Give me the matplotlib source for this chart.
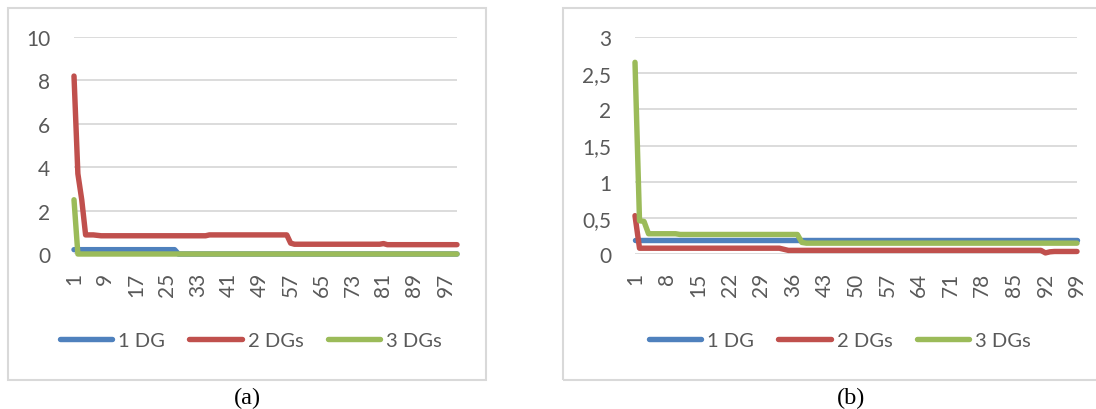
import matplotlib
matplotlib.use("Agg")
import matplotlib.pyplot as plt
from matplotlib.patches import Rectangle
from matplotlib.ticker import FuncFormatter

# ---------------- data ----------------
series_labels = ["1 DG", "2 DGs", "3 DGs"]
colors = ["#4F81BD", "#C0504D", "#9BBB59"]

# panel (a): 100 iterations
iters_a = list(range(1, 101))
dg1_a = [0.2] * 27 + [0.0] * 73
dg2_a = ([8.2, 3.7, 2.5, 0.88, 0.88, 0.88, 0.86] + [0.84] * 28 + [0.88] * 21
         + [0.5] + [0.45] * 23 + [0.48] + [0.43] * 19)
dg3_a = [2.5] + [0.0] * 99
xticks_a = list(range(1, 101, 8))
yticks_a = [0, 2, 4, 6, 8, 10]

# panel (b): 99 iterations
iters_b = list(range(1, 100))
dg1_b = [0.2] * 99
dg2_b = ([0.53] + [0.08] * 32 + [0.065] + [0.05] * 57 + [0.015, 0.03]
         + [0.035] * 6)
dg3_b = ([2.65, 0.46, 0.45] + [0.28] * 7 + [0.27] * 27 + [0.16] + [0.15] * 61)
xticks_b = list(range(1, 100, 7))
yticks_b = [0, 0.5, 1, 1.5, 2, 2.5, 3]

captions = ["(a)", "(b)"]

# ---------------- layout ----------------
W, H = 1096, 410
plt.rcParams['font.family'] = ['Lato', 'DejaVu Sans']
TXT = "#595959"
GRID = "#D9D9D9"

fig = plt.figure(figsize=(W / 100, H / 100), dpi=100)


def fx(px):
    return px / W


def fy(py):
    return (H - py) / H


def make_panel(left, right, xs, ys_list, xticks, yticks, ymax, fmt,
               legend_cx):
    ax = fig.add_axes([fx(left), fy(255), fx(right - left), (255 - 38) / H])
    for ys, c, lab in zip(ys_list, colors, series_labels):
        ax.plot(xs, ys, color=c, lw=3.9, solid_capstyle='round',
                solid_joinstyle='round', label=lab, clip_on=False, zorder=3)
    ax.set_xlim(xs[0], xs[-1])
    ax.set_ylim(0, ymax)
    ax.set_yticks(yticks)
    ax.yaxis.set_major_formatter(FuncFormatter(fmt))
    ax.set_xticks(xticks)
    ax.set_xticklabels([str(t) for t in xticks], rotation=90)
    for s in ax.spines.values():
        s.set_visible(False)
    ax.grid(axis='y', color=GRID, lw=1.3, zorder=0)
    ax.tick_params(axis='both', length=0, colors=TXT, labelsize=15)
    ax.tick_params(axis='y', pad=17)
    ax.tick_params(axis='x', pad=13)
    ax.legend(loc='center', bbox_to_anchor=(fx(legend_cx), fy(341)),
              bbox_transform=fig.transFigure, ncol=3, frameon=False,
              fontsize=14.5, handlelength=2.6, handletextpad=0.3,
              columnspacing=1.2, labelcolor=TXT)
    return ax


def fmt_a(v, pos):
    return f"{v:g}"


def fmt_b(v, pos):
    return f"{v:g}".replace(".", ",")


make_panel(74, 457, iters_a, [dg1_a, dg2_a, dg3_a], xticks_a, yticks_a, 10,
           fmt_a, 251)
make_panel(635, 1077, iters_b, [dg1_b, dg2_b, dg3_b], xticks_b, yticks_b, 3,
           fmt_b, 840)

# frames
fig.add_artist(Rectangle((fx(8), fy(381)), fx(486 - 8), (381 - 9) / H,
                         transform=fig.transFigure, fill=False, ec=GRID,
                         lw=1.5))
fig.add_artist(Rectangle((fx(563), fy(381)), fx(1100 - 563), (381 - 9) / H,
                         transform=fig.transFigure, fill=False, ec=GRID,
                         lw=1.5))

# captions
fig.text(fx(247), fy(398), captions[0], ha='center', va='center',
         family='Liberation Serif', fontsize=17.5, color='black')
fig.text(fx(851), fy(398), captions[1], ha='center', va='center',
         family='Liberation Serif', fontsize=17.5, color='black')

fig.savefig("out.png", dpi=100)
